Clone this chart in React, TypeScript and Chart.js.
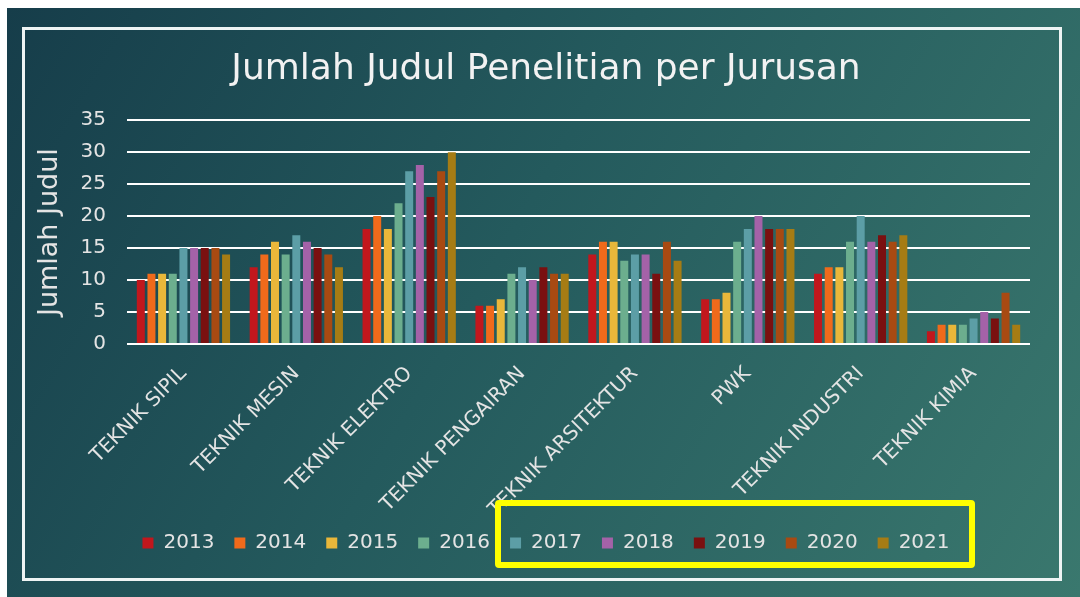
import React, { useEffect, useRef } from "react";
import { Chart, registerables } from "chart.js";

Chart.register(...registerables);

const categories = [
  "TEKNIK SIPIL",
  "TEKNIK MESIN",
  "TEKNIK ELEKTRO",
  "TEKNIK PENGAIRAN",
  "TEKNIK ARSITEKTUR",
  "PWK",
  "TEKNIK INDUSTRI",
  "TEKNIK KIMIA",
];

const years = ["2013", "2014", "2015", "2016", "2017", "2018", "2019", "2020", "2021"];

const v2013 = [10, 12, 18, 6, 14, 7, 11, 2];
const v2014 = [11, 14, 20, 6, 16, 7, 12, 3];
const v2015 = [11, 16, 18, 7, 16, 8, 12, 3];
const v2016 = [11, 14, 22, 11, 13, 16, 16, 3];
const v2017 = [15, 17, 27, 12, 14, 18, 20, 4];
const v2018 = [15, 16, 28, 10, 14, 20, 16, 5];
const v2019 = [15, 15, 23, 12, 11, 18, 17, 4];
const v2020 = [15, 14, 27, 11, 16, 18, 16, 8];
const v2021 = [14, 12, 30, 11, 13, 18, 17, 3];

const seriesValues = [v2013, v2014, v2015, v2016, v2017, v2018, v2019, v2020, v2021];

const colors = [
  "#c1171d",
  "#f06a1b",
  "#e9b73a",
  "#6cae8e",
  "#5c9ea6",
  "#a462a8",
  "#7a1010",
  "#a84a12",
  "#a67c14",
];

const yTicks = [0, 5, 10, 15, 20, 25, 30, 35];

const FONT = "'DejaVu Sans', sans-serif";
const TEXT = "#e4e4e4";

export default function App() {
  const ref = useRef<HTMLCanvasElement | null>(null);

  useEffect(() => {
    if (!ref.current) return;
    const chart = new Chart(ref.current, {
      type: "bar",
      data: {
        labels: categories,
        datasets: years.map((y, i) => ({
          label: y,
          data: seriesValues[i],
          backgroundColor: colors[i],
          borderWidth: 0,
          categoryPercentage: 0.85,
          barPercentage: 0.75,
        })),
      },
      options: {
        responsive: false,
        animation: false,
        layout: { padding: { top: 28, left: 30, right: 18, bottom: 34 } },
        plugins: {
          tooltip: { enabled: false },
          title: {
            display: true,
            text: "Jumlah Judul Penelitian per Jurusan",
            color: "#f2f2f2",
            font: { family: FONT, size: 36, weight: "normal", lineHeight: 1.2 },
            padding: { top: 20, bottom: 29 },
          },
          legend: {
            position: "bottom",
            labels: {
              color: TEXT,
              font: { family: FONT, size: 20, lineHeight: 1.2 },
              boxWidth: 11,
              boxHeight: 11,
              padding: 20,
            },
          },
        },
        scales: {
          x: {
            grid: { display: false, drawTicks: false },
            border: { display: false },
            ticks: {
              color: TEXT,
              font: { family: FONT, size: 20 },
              minRotation: 45,
              maxRotation: 45,
              autoSkip: false,
              padding: 18,
            },
            afterFit: (s: any) => {
              s.height = 169;
            },
          },
          y: {
            min: 0,
            max: 35,
            afterBuildTicks: (s: any) => {
              s.ticks = yTicks.map((v) => ({ value: v }));
            },
            grid: { color: "#ffffff", lineWidth: 2, drawTicks: false },
            border: { display: false },
            ticks: {
              color: TEXT,
              font: { family: FONT, size: 20 },
              padding: 21,
            },
            title: {
              display: true,
              text: "Jumlah Judul",
              color: TEXT,
              font: { family: FONT, size: 27, lineHeight: 1.2 },
              padding: { top: 4, bottom: 0 },
            },
            afterFit: (s: any) => {
              s.width = 97;
            },
          },
          y2: {
            position: "right",
            display: true,
            grid: { display: false, drawTicks: false },
            border: { display: false },
            ticks: { display: false },
            afterFit: (s: any) => {
              s.width = 32;
            },
          },
        },
      },
    });
    return () => chart.destroy();
  }, []);

  return (
    <div>
      <div
        style={{
          position: "fixed",
          left: 7,
          top: 8,
          right: 0,
          bottom: 0,
          background: "linear-gradient(120deg, #163d4a 0%, #245a5d 45%, #3a786e 100%)",
        }}
      />
      <div
        style={{
          position: "fixed",
          left: 22,
          top: 27,
          width: 1040,
          height: 554,
          boxSizing: "border-box",
          border: "3px solid #eef4f4",
        }}
      />
      <canvas
        ref={ref}
        width={1080}
        height={597}
        style={{ position: "fixed", left: 0, top: 0, width: 1080, height: 597 }}
      />
      <div
        style={{
          position: "fixed",
          left: 495,
          top: 500,
          width: 480,
          height: 68,
          boxSizing: "border-box",
          border: "6px solid #ffff00",
          borderRadius: 4,
        }}
      />
    </div>
  );
}
